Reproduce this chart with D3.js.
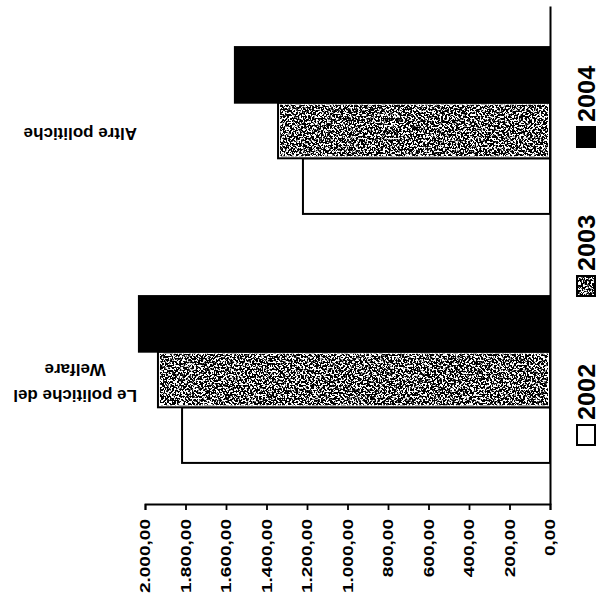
<!DOCTYPE html>
<html>
<head>
<meta charset="utf-8">
<script src="https://cdn.jsdelivr.net/npm/d3@7"></script>
<style>
  html, body { margin: 0; padding: 0; background: #fff; }
  svg { display: block; }
</style>
</head>
<body>
<svg id="chart" width="599" height="606"></svg>
<script>
// ---- data ----
const categories = ["Le politiche del Welfare", "Altre politiche"];
const categoryLines = [["Le politiche del", "Welfare"], ["Altre politiche"]];
const years = ["2002", "2003", "2004"];
const values2002 = [1817, 1220];
const values2003 = [1936, 1343];
const values2004 = [2030, 1556];
const tickValues = [0, 200, 400, 600, 800, 1000, 1200, 1400, 1600, 1800, 2000];

const seriesValues = { "2002": values2002, "2003": values2003, "2004": values2004 };

// ---- setup ----
const svg = d3.select("#chart");
const defs = svg.append("defs");
const f = defs.append("filter").attr("id", "speckle")
  .attr("x", 0).attr("y", 0).attr("width", 1).attr("height", 1)
  .attr("color-interpolation-filters", "sRGB");
f.append("feTurbulence").attr("type", "fractalNoise").attr("baseFrequency", 0.55)
  .attr("numOctaves", 2).attr("seed", 7).attr("result", "noise");
f.append("feColorMatrix").attr("in", "noise").attr("type", "matrix")
  .attr("values", "0 0 0 0 0  0 0 0 0 0  0 0 0 0 0  14 0 0 0 -6.2").attr("result", "dots");
f.append("feComposite").attr("in", "dots").attr("in2", "SourceGraphic").attr("operator", "in");

const axisY = 504;
const x = d3.scaleLinear().domain([0, 2000]).range([550, 145]);
const y0 = d3.scaleBand().domain(categories).range([axisY, 6]).paddingInner(0.33).paddingOuter(0.165);
const y1 = d3.scaleBand().domain(years.slice().reverse()).range([0, y0.bandwidth()]);

const fills = { "2002": "#fff", "2003": "#fff", "2004": "#000" };

const rows = [];
categories.forEach((c, i) => years.forEach(yr => rows.push({ cat: c, year: yr, value: seriesValues[yr][i] })));

const bars = svg.append("g");
bars.selectAll("rect.base").data(rows).join("rect").attr("class", "base")
  .attr("x", d => x(d.value)).attr("y", d => y0(d.cat) + y1(d.year))
  .attr("width", d => x(0) - x(d.value)).attr("height", y1.bandwidth())
  .attr("fill", d => fills[d.year]).attr("stroke", "#000").attr("stroke-width", 2);
bars.selectAll("rect.spk").data(rows.filter(d => d.year === "2003")).join("rect").attr("class", "spk")
  .attr("x", d => x(d.value) + 2).attr("y", d => y0(d.cat) + y1(d.year) + 2)
  .attr("width", d => x(0) - x(d.value) - 4).attr("height", y1.bandwidth() - 4)
  .attr("fill", "#000").attr("filter", "url(#speckle)");

// ---- value axis (bottom) ----
const it = d3.formatLocale({ decimal: ",", thousands: ".", grouping: [3], currency: ["€", ""] });
const fmt = it.format(",.2f");
const xAxis = svg.append("g").attr("transform", `translate(0,${axisY})`)
  .call(d3.axisBottom(x).tickValues(tickValues).tickFormat(fmt).tickSizeOuter(0).tickSize(6));
xAxis.select(".domain").attr("stroke", "#000").attr("stroke-width", 1.8);
xAxis.selectAll(".tick line").attr("stroke", "#000").attr("stroke-width", 1.8);
xAxis.selectAll(".tick text")
  .attr("x", 0).attr("y", 0).attr("dy", "0.35em")
  .attr("transform", "translate(0,15) rotate(-90) scale(1.36,1)")
  .attr("text-anchor", "end")
  .attr("font-family", "Liberation Sans, Arial, sans-serif")
  .attr("font-weight", "bold")
  .attr("font-size", 14).attr("fill", "#000");

// ---- category axis line (right) ----
const yAxis = svg.append("g").attr("transform", `translate(${x(0)},0)`)
  .call(d3.axisRight(y0).tickSize(0).tickSizeOuter(0).tickFormat(""));
yAxis.select(".domain").attr("stroke", "#000").attr("stroke-width", 2);

// ---- category labels (upside down) ----
const labG = svg.append("g");
categories.forEach((c, i) => {
  const cy = y0(c) + y0.bandwidth() / 2 + 3;
  const lines = categoryLines[i];
  const g = labG.append("g").attr("transform", `translate(137,${cy}) rotate(180)`);
  const n = lines.length;
  let firstLen = 0;
  lines.forEach((ln, k) => {
    const t = g.append("text")
      .attr("y", (k - (n - 1) / 2) * 26).attr("dy", "0.35em")
      .attr("font-family", "Liberation Sans, Arial, sans-serif")
      .attr("font-weight", "bold").attr("font-size", 17).attr("fill", "#000")
      .text(ln);
    if (k === 0) { t.attr("x", 0).attr("text-anchor", "start"); firstLen = t.node().getComputedTextLength(); }
    else { t.attr("x", firstLen / 2).attr("text-anchor", "middle"); }
  });
});

// ---- legend (right, rotated) ----
const leg = svg.append("g");
years.forEach((yr, i) => {
  const bottom = 445 - i * 149;
  const g = leg.append("g");
  g.append("rect").attr("x", 577).attr("y", bottom - 20).attr("width", 18).attr("height", 20)
    .attr("fill", fills[yr]).attr("stroke", "#000").attr("stroke-width", 2);
  if (yr === "2003") {
    g.append("rect").attr("x", 578).attr("y", bottom - 19).attr("width", 16).attr("height", 18)
      .attr("fill", "#000").attr("filter", "url(#speckle)");
  }
  g.append("text")
    .attr("transform", `translate(595,${bottom - 25}) rotate(-90) scale(1.1,1)`)
    .attr("text-anchor", "start")
    .attr("font-family", "Liberation Sans, Arial, sans-serif")
    .attr("font-weight", "bold")
    .attr("font-size", 23).attr("fill", "#000")
    .text(yr);
});
</script>
</body>
</html>
